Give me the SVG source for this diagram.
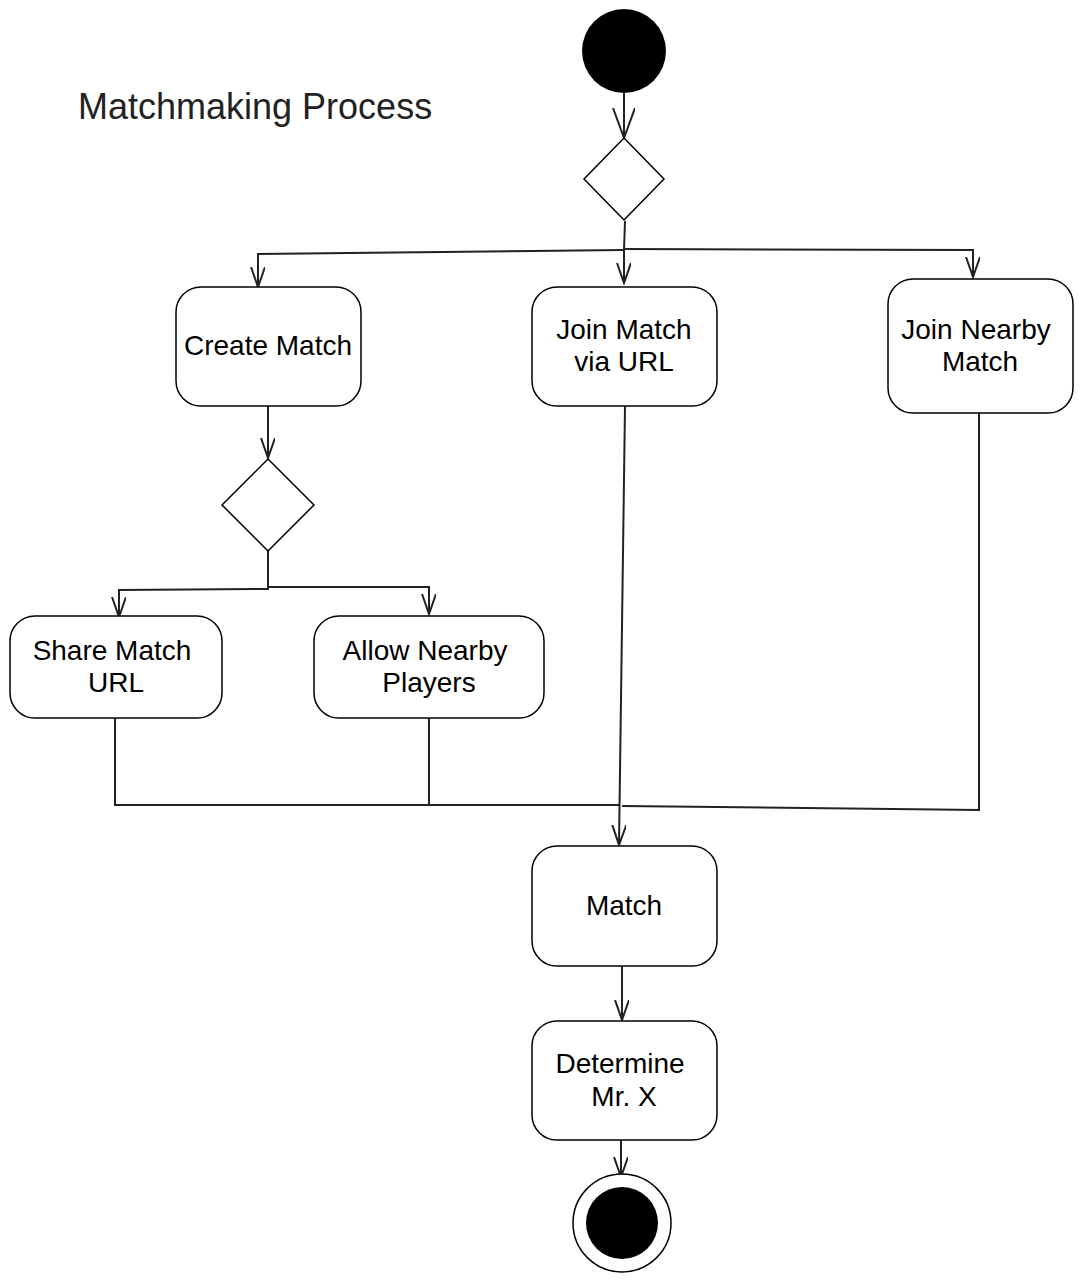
<svg xmlns="http://www.w3.org/2000/svg" width="1083" height="1280" viewBox="0 0 1083 1280">
<style>
.box{fill:#fff;stroke:#000;stroke-width:1.5}
.dia{fill:#fff;stroke:#000;stroke-width:1.5}
.lbl{font-family:"Liberation Sans",Arial,sans-serif;font-size:28px;fill:#000;text-anchor:middle}
.title{font-family:"Liberation Sans",Arial,sans-serif;font-size:36px;fill:#222}
.conn{fill:none;stroke:#222;stroke-width:2}
</style>
<defs>
<marker id="ab" markerUnits="userSpaceOnUse" markerWidth="32" markerHeight="24" refX="30" refY="11" orient="auto">
<path d="M0,0 L30,11 L0,22" fill="none" stroke="#222" stroke-width="2"/>
</marker>
<marker id="as" markerUnits="userSpaceOnUse" markerWidth="22" markerHeight="16" refX="20" refY="7" orient="auto">
<path d="M0,0 L20,7 L0,14" fill="none" stroke="#222" stroke-width="2"/>
</marker>
</defs>
<rect width="1083" height="1280" fill="#fff"/>
<text class="title" x="78" y="119">Matchmaking Process</text>
<g id="connectors">
<path class="conn" d="M624,80 L624,138" marker-end="url(#ab)"/>
<path class="conn" d="M625,221 L624,250"/>
<path class="conn" d="M624,250 L258,254 L258,287" marker-end="url(#as)"/>
<path class="conn" d="M624,250 L624,283" marker-end="url(#as)"/>
<path class="conn" d="M624,249 L973,250 L973,277" marker-end="url(#as)"/>
<path class="conn" d="M268,406 L268,458" marker-end="url(#as)"/>
<path class="conn" d="M268,551 L268,589 L119,590 L119,617" marker-end="url(#as)"/>
<path class="conn" d="M268,587 L429,587 L429,614" marker-end="url(#as)"/>
<path class="conn" d="M115,718 L115,805 L620,805"/>
<path class="conn" d="M429,718 L429,805"/>
<path class="conn" d="M625,406 L619,845" marker-end="url(#as)"/>
<path class="conn" d="M979,413 L979,810 L622,806"/>
<path class="conn" d="M622,966 L622,1020" marker-end="url(#as)"/>
<path class="conn" d="M621,1140 L621,1177" marker-end="url(#as)"/>
</g>
<g id="start"><circle cx="624" cy="51" r="42" fill="#000"/></g>
<g id="decision1"><polygon class="dia" points="624,138 664,179 624,220 584,179"/></g>
<g id="create-match"><rect class="box" x="176" y="287" width="185" height="119" rx="25"/><text class="lbl" x="268" y="355">Create Match</text></g>
<g id="join-url"><rect class="box" x="532" y="287" width="185" height="119" rx="25"/><text class="lbl" x="624" y="339">Join Match</text><text class="lbl" x="624" y="371">via URL</text></g>
<g id="join-nearby"><rect class="box" x="888" y="279" width="185" height="134" rx="25"/><text class="lbl" x="976" y="339">Join Nearby</text><text class="lbl" x="980" y="371">Match</text></g>
<g id="decision2"><polygon class="dia" points="268,459 314,505 268,551 222,505"/></g>
<g id="share-url"><rect class="box" x="10" y="616" width="212" height="102" rx="25"/><text class="lbl" x="112" y="660">Share Match</text><text class="lbl" x="116" y="692">URL</text></g>
<g id="allow-nearby"><rect class="box" x="314" y="616" width="230" height="102" rx="25"/><text class="lbl" x="425" y="660">Allow Nearby</text><text class="lbl" x="429" y="692">Players</text></g>
<g id="match"><rect class="box" x="532" y="846" width="185" height="120" rx="25"/><text class="lbl" x="624" y="915">Match</text></g>
<g id="determine"><rect class="box" x="532" y="1021" width="185" height="119" rx="25"/><text class="lbl" x="620" y="1073">Determine</text><text class="lbl" x="624" y="1106">Mr. X</text></g>
<g id="end"><circle cx="622" cy="1223" r="49" fill="#fff" stroke="#000" stroke-width="1.5"/><circle cx="622" cy="1223" r="36" fill="#000"/></g>
</svg>
